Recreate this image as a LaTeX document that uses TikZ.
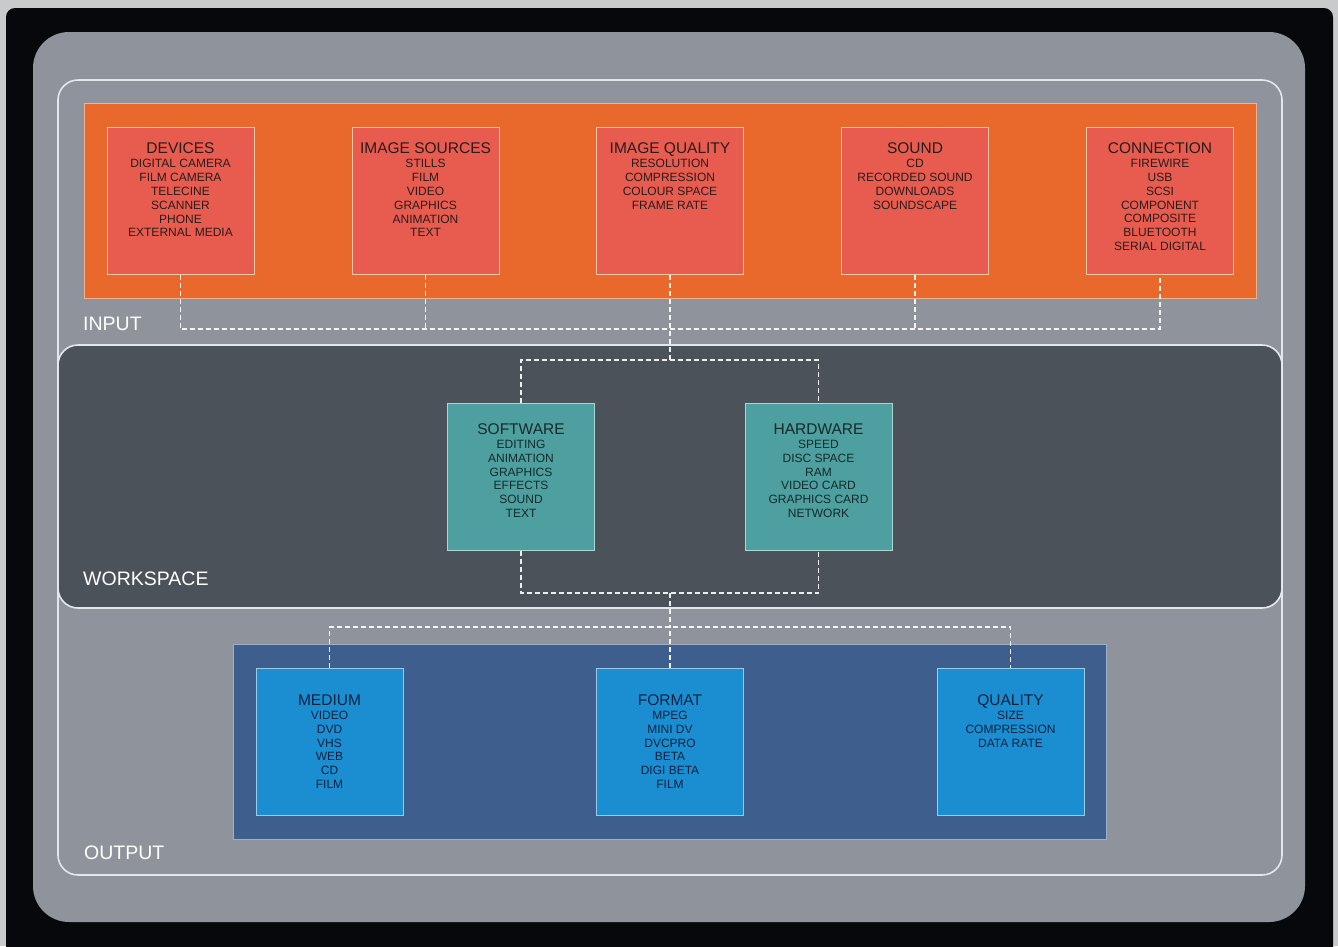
\documentclass[tikz,border=0pt]{standalone}
\usepackage{fontspec}
\setmainfont{Liberation Sans}

\definecolor{pagegrey}{HTML}{C9CACC}
\definecolor{framebk}{HTML}{07080C}
\definecolor{panelgrey}{HTML}{8F939B}
\definecolor{outline}{HTML}{E4E7EC}
\definecolor{inband}{HTML}{E9692C}
\definecolor{inbandline}{HTML}{F2B28C}
\definecolor{inbox}{HTML}{E85B4F}
\definecolor{inboxline}{HTML}{F6C7A6}
\definecolor{intext}{HTML}{2A1C1C}
\definecolor{wsband}{HTML}{4C525A}
\definecolor{wsbox}{HTML}{4D9FA0}
\definecolor{wsboxline}{HTML}{A9D7D4}
\definecolor{wstext}{HTML}{142A2C}
\definecolor{outband}{HTML}{3E5F8E}
\definecolor{outbandline}{HTML}{9DB0C8}
\definecolor{outbox}{HTML}{1A8ED0}
\definecolor{outboxline}{HTML}{9CCBEA}
\definecolor{outtext}{HTML}{0C2240}

\tikzset{
  topic/.style={line width=0.9pt, minimum width=147pt, minimum height=147pt,
    inner sep=0pt, anchor=north},
  inputbox/.style={topic, fill=inbox, draw=inboxline},
  workbox/.style={topic, fill=wsbox, draw=wsboxline},
  outputbox/.style={topic, fill=outbox, draw=outboxline},
  ttl/.style={anchor=base, inner sep=0pt, font=\fontsize{15.5}{18}\selectfont},
  itm/.style={anchor=north, inner sep=0pt, align=center,
    font=\fontsize{12}{13.8}\selectfont},
  link/.style={draw=white, draw opacity=0.9, line width=1.1pt,
    dash pattern=on 5pt off 3pt},
  bandlabel/.style={anchor=base west, inner sep=0pt, text=white,
    font=\fontsize{19.5}{22}\selectfont}
}

% name, style, centre x, top y, title baseline offset, text colour, title, items
\newcommand\topicbox[8]{%
  \node[#2] (#1) at (#3,#4) {};
  \node[ttl, text=#6] (#1t) at (#3,#4+#5) {#7};
  \node[itm, text=#6] (#1i) at (#3,#4+#5+6) {#8};
}

\begin{document}
\begin{tikzpicture}[x=1pt,y=-1pt]
  \useasboundingbox (0,0) rectangle (1338,946);
  \fill[pagegrey] (0,0) rectangle (1338,946);

  % dark frame and rounded grey panel
  \begin{scope}
    \clip (0,0) rectangle (1338,946);
    \fill[framebk, rounded corners=9pt] (6,8) rectangle (1333,990);
  \end{scope}
  \fill[panelgrey, rounded corners=36pt] (33,32) rectangle (1305,922);
  \draw[outline, line width=1.6pt, rounded corners=20pt] (58,80) rectangle (1282,875);

  % bands
  \filldraw[fill=inband, draw=inbandline, line width=0.9pt] (84,103) rectangle (1256,298);
  \filldraw[fill=wsband, draw=outline, line width=1.6pt, rounded corners=20pt]
    (58,345) rectangle (1282,608);
  \filldraw[fill=outband, draw=outbandline, line width=0.9pt] (233,644) rectangle (1106,839);

  \node[bandlabel] (inlabel) at (83,330) {INPUT};
  \node[bandlabel] (wslabel) at (83,585) {WORKSPACE};
  \node[bandlabel] (outlabel) at (84,859) {OUTPUT};

  % input topics
  \topicbox{dev}{inputbox}{180.5}{127}{26.3}{intext}{DEVICES}
    {DIGITAL CAMERA\\FILM CAMERA\\TELECINE\\SCANNER\\PHONE\\EXTERNAL MEDIA}
  \topicbox{src}{inputbox}{425.5}{127}{26.3}{intext}{IMAGE SOURCES}
    {STILLS\\FILM\\VIDEO\\GRAPHICS\\ANIMATION\\TEXT}
  \topicbox{iq}{inputbox}{670}{127}{26.3}{intext}{IMAGE QUALITY}
    {RESOLUTION\\COMPRESSION\\COLOUR SPACE\\FRAME RATE}
  \topicbox{snd}{inputbox}{915}{127}{26.3}{intext}{SOUND}
    {CD\\RECORDED SOUND\\DOWNLOADS\\SOUNDSCAPE}
  \topicbox{con}{inputbox}{1160}{127}{26.3}{intext}{CONNECTION}
    {FIREWIRE\\USB\\SCSI\\COMPONENT\\COMPOSITE\\BLUETOOTH\\SERIAL DIGITAL}

  % workspace topics
  \topicbox{sw}{workbox}{521}{403}{31}{wstext}{SOFTWARE}
    {EDITING\\ANIMATION\\GRAPHICS\\EFFECTS\\SOUND\\TEXT}
  \topicbox{hw}{workbox}{818.5}{403}{31}{wstext}{HARDWARE}
    {SPEED\\DISC SPACE\\RAM\\VIDEO CARD\\GRAPHICS CARD\\NETWORK}

  % output topics
  \topicbox{med}{outputbox}{329.5}{668}{37}{outtext}{MEDIUM}
    {VIDEO\\DVD\\VHS\\WEB\\CD\\FILM}
  \topicbox{fmt}{outputbox}{670}{668}{37}{outtext}{FORMAT}
    {MPEG\\MINI DV\\DVCPRO\\BETA\\DIGI BETA\\FILM}
  \topicbox{qual}{outputbox}{1010.5}{668}{37}{outtext}{QUALITY}
    {SIZE\\COMPRESSION\\DATA RATE}

  % junction points of the dashed links
  \coordinate (inbus) at (670,329);
  \coordinate (wstop) at (670,360);
  \coordinate (wsbot) at (670,593);
  \coordinate (outbus) at (670,627);

  % dashed links
  \draw[link] (dev.south) |- (inbus) -| (con.south);
  \draw[link] (src.south) -- (src.south |- inbus);
  \draw[link] (snd.south) -- (snd.south |- inbus);
  \draw[link] (iq.south) -- (wstop);
  \draw[link] (sw.north) |- (wstop) -| (hw.north);
  \draw[link] (sw.south) |- (wsbot) -| (hw.south);
  \draw[link] (wsbot) -- (outbus);
  \draw[link] (med.north) |- (outbus) -| (qual.north);
  \draw[link] (fmt.north) -- (outbus);
\end{tikzpicture}
\end{document}
